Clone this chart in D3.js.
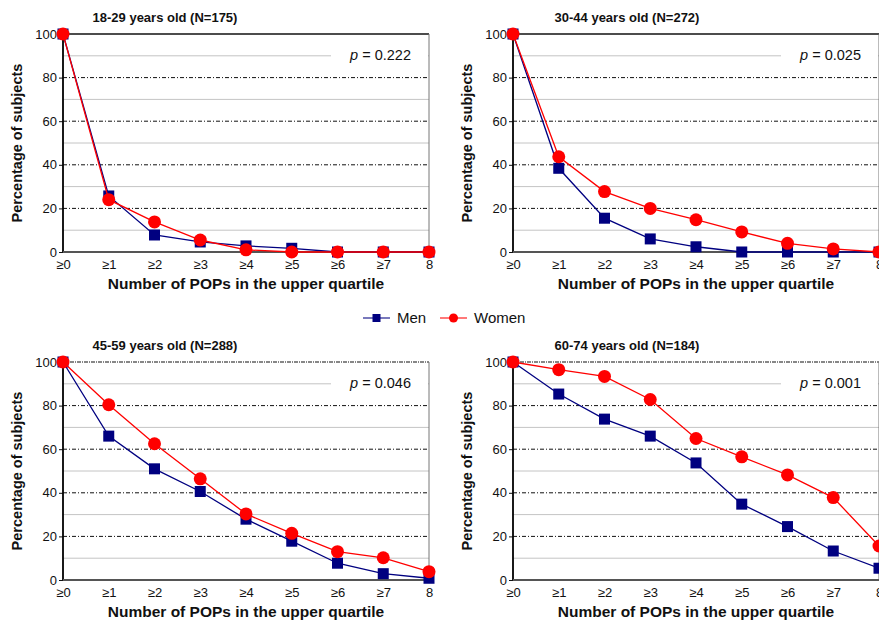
<!DOCTYPE html>
<html>
<head>
<meta charset="utf-8">
<script src="https://cdn.jsdelivr.net/npm/d3@7/dist/d3.min.js"></script>
<style>
  html, body { margin: 0; padding: 0; background: #fff; }
  svg { display: block; font-family: "Liberation Sans", Arial, sans-serif; }
</style>
</head>
<body>
<svg id="chart" width="879" height="621"></svg>
<script>
// ---- data ----
const categories = ["≥0", "≥1", "≥2", "≥3", "≥4", "≥5", "≥6", "≥7", "8"];
const yTicks = [0, 20, 40, 60, 80, 100];
const panelTitles = ["18-29 years old (N=175)", "30-44 years old (N=272)", "45-59 years old (N=288)", "60-74 years old (N=184)"];
const pValues = ["0.222", "0.025", "0.046", "0.001"];
const seriesNames = ["Men", "Women"];

const men1829   = [100, 25.7, 7.8, 4.6, 2.8, 1.7, 0, 0, 0];
const women1829 = [100, 24.0, 13.8, 5.5, 1.0, 0, 0, 0, 0];
const men3044   = [100, 38.4, 15.5, 6.0, 2.4, 0, 0, 0, 0];
const women3044 = [100, 43.7, 27.7, 20.0, 14.8, 9.2, 4.0, 1.4, 0];
const men4559   = [100, 66.0, 51.0, 40.6, 27.9, 17.8, 7.7, 2.9, 0.8];
const women4559 = [100, 80.4, 62.5, 46.4, 30.3, 21.4, 13.0, 10.2, 3.8];
const men6074   = [100, 85.3, 73.8, 66.0, 53.7, 34.8, 24.5, 13.3, 5.4];
const women6074 = [100, 96.5, 93.4, 82.8, 64.9, 56.5, 48.2, 37.8, 15.6];

const panelMen = [men1829, men3044, men4559, men6074];
const panelWomen = [women1829, women3044, women4559, women6074];

// ---- layout ----
const svg = d3.select("#chart");
const plotW = 366, plotH = 218;
const origins = [[63, 34], [513, 34], [63, 362], [513, 362]];
const titleX = [102, 114, 102, 114];
const menColor = "#000080", womenColor = "#ff0000";

const x = d3.scalePoint().domain(categories).range([0, plotW]);
const y = d3.scaleLinear().domain([0, 100]).range([plotH, 0]);

panelTitles.forEach((title, i) => {
  const [ox, oy] = origins[i];
  const g = svg.append("g").attr("transform", `translate(${ox},${oy})`);

  // minor gridlines
  g.selectAll("line.minor").data([10, 30, 50, 70, 90]).join("line")
    .attr("x1", 0).attr("x2", plotW)
    .attr("y1", d => y(d)).attr("y2", d => y(d))
    .attr("stroke", "#c4c4c4").attr("stroke-width", 1);
  // major gridlines
  g.selectAll("line.major").data([20, 40, 60, 80]).join("line")
    .attr("x1", 0).attr("x2", plotW)
    .attr("y1", d => y(d)).attr("y2", d => y(d))
    .attr("stroke", "#111").attr("stroke-width", 1)
    .attr("stroke-dasharray", "4,2,1,2");
  // top border
  g.append("line").attr("x1", 0).attr("x2", plotW).attr("y1", y(100)).attr("y2", y(100))
    .attr("stroke", "#111").attr("stroke-width", i < 2 ? 1.5 : 1.2)
    .attr("stroke-dasharray", i < 2 ? null : "4,1,1,1");
  // right border
  g.append("line").attr("x1", plotW).attr("x2", plotW).attr("y1", 0).attr("y2", plotH)
    .attr("stroke", "#777").attr("stroke-width", 1);

  // p-value box
  g.append("rect").attr("x", 268).attr("y", 11).attr("width", 97).attr("height", 19).attr("fill", "#fff");
  const pt = g.append("text").attr("x", 348).attr("y", 26).attr("text-anchor", "end")
    .attr("font-size", 14.5).attr("fill", "#111");
  pt.append("tspan").attr("font-style", "italic").text("p");
  pt.append("tspan").text(" = " + pValues[i]);

  // y axis
  const ya = g.append("g").call(d3.axisLeft(y).tickValues(yTicks).tickSize(4).tickPadding(2));
  ya.select(".domain").remove();
  ya.selectAll("text").attr("font-size", 13).attr("fill", "#111").attr("font-family", "Liberation Sans, Arial, sans-serif");
  ya.selectAll(".tick line").attr("stroke", "#111");
  g.append("line").attr("x1", 0).attr("x2", 0).attr("y1", 0).attr("y2", plotH)
    .attr("stroke", "#000").attr("stroke-width", 1.8);

  // x axis
  const xa = g.append("g").attr("transform", `translate(0,${plotH})`)
    .call(d3.axisBottom(x).tickSize(0).tickPadding(8));
  xa.select(".domain").remove();
  xa.selectAll("text").attr("font-size", 13).attr("fill", "#111").attr("font-family", "Liberation Sans, Arial, sans-serif");
  g.append("line").attr("x1", 0).attr("x2", plotW).attr("y1", plotH).attr("y2", plotH)
    .attr("stroke", "#555").attr("stroke-width", 2);

  // titles
  g.append("text").attr("x", titleX[i]).attr("y", -12).attr("text-anchor", "middle")
    .attr("font-size", 13).attr("font-weight", "bold").attr("fill", "#111").text(title);
  g.append("text").attr("x", 183).attr("y", plotH + 37).attr("text-anchor", "middle")
    .attr("font-size", 15.5).attr("font-weight", "bold").attr("fill", "#111")
    .text("Number of POPs in the upper quartile");
  g.append("text").attr("transform", `translate(-41,${plotH / 2}) rotate(-90)`)
    .attr("text-anchor", "middle").attr("font-size", 14.5).attr("font-weight", "bold").attr("fill", "#111")
    .text("Percentage of subjects");

  // series
  const line = d3.line().x((d, j) => x(categories[j])).y(d => y(d));
  const men = panelMen[i], women = panelWomen[i];
  g.append("path").datum(men).attr("d", line).attr("fill", "none").attr("stroke", menColor).attr("stroke-width", 1.3);
  g.selectAll("rect.m").data(men).join("rect").attr("class", "m")
    .attr("x", (d, j) => x(categories[j]) - 5.5).attr("y", d => y(d) - 5.5)
    .attr("width", 11).attr("height", 11).attr("fill", menColor);
  g.append("path").datum(women).attr("d", line).attr("fill", "none").attr("stroke", womenColor).attr("stroke-width", 1.3);
  g.selectAll("circle.w").data(women).join("circle").attr("class", "w")
    .attr("cx", (d, j) => x(categories[j])).attr("cy", d => y(d)).attr("r", 6.5).attr("fill", womenColor);
});

// legend
const lg = svg.append("g").attr("transform", "translate(0,318)");
const legendItems = [
  { name: seriesNames[0], x0: 363, color: menColor, shape: "square" },
  { name: seriesNames[1], x0: 440, color: womenColor, shape: "circle" }
];
legendItems.forEach(it => {
  lg.append("line").attr("x1", it.x0).attr("x2", it.x0 + 27).attr("y1", 0).attr("y2", 0)
    .attr("stroke", it.color).attr("stroke-width", 1.4).attr("opacity", 0.75);
  if (it.shape === "square") {
    lg.append("rect").attr("x", it.x0 + 13.5 - 4).attr("y", -4).attr("width", 8).attr("height", 8).attr("fill", it.color);
  } else {
    lg.append("circle").attr("cx", it.x0 + 13.5).attr("cy", 0).attr("r", 4.5).attr("fill", it.color);
  }
  lg.append("text").attr("x", it.x0 + 34).attr("y", 5).attr("font-size", 15).attr("fill", "#111").text(it.name);
});
</script>
</body>
</html>
